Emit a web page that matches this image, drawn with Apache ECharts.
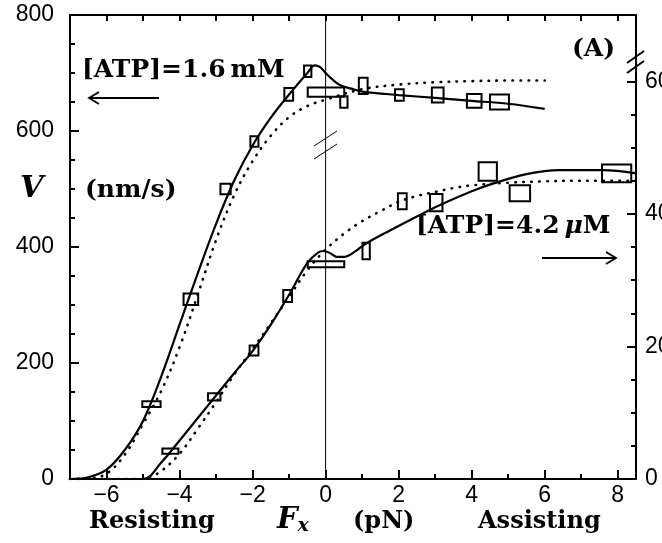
<!DOCTYPE html>
<html>
<head>
<meta charset="utf-8">
<script src="https://cdn.jsdelivr.net/npm/echarts@6/dist/echarts.min.js"></script>
<style>
html, body { margin: 0; padding: 0; background: #fff; }
#chart { width: 662px; height: 543px; }
</style>
</head>
<body>
<div id="chart"></div>
<script>
var dom = document.getElementById("chart");
var myChart = echarts.init(dom);

// [ATP] = 1.6 mM measurements (left axis, nm/s)
var hiF  = [-4.77, -3.69, -2.74, -1.95, -1.01, -0.49, 0.01, 0.50, 1.03, 2.02, 3.07, 4.07, 4.76];
var hiV  = [129, 310, 500, 582, 663, 703, 667, 650, 678, 662, 662, 652, 650];
var hiDF = [0.25, 0.20, 0.14, 0.11, 0.12, 0.10, 0.50, 0.10, 0.12, 0.12, 0.16, 0.20, 0.26];
var hiDV = [5, 10, 9, 9, 11, 10, 8, 10, 14, 10, 13, 12, 13];

// [ATP] = 4.2 uM measurements (right axis, nm/s)
var loF  = [-4.25, -3.05, -1.96, -1.04, 0.01, 1.11, 2.10, 3.03, 4.44, 5.32, 7.97];
var loV  = [4.2, 12.4, 19.4, 27.6, 32.4, 34.4, 41.9, 41.7, 46.4, 43.1, 46.1];
var loDF = [0.22, 0.17, 0.12, 0.12, 0.50, 0.10, 0.12, 0.17, 0.25, 0.28, 0.40];
var loDV = [0.4, 0.55, 0.75, 0.9, 0.45, 1.25, 1.2, 1.3, 1.4, 1.2, 1.35];

// fitted curves
var hiSolidF = [-7, -6.5, -6, -5.5, -5, -4.5, -4, -3.5, -3, -2.5, -2, -1.5, -1, -0.5, -0.3, -0.15, 0, 0.2, 0.4, 0.7, 1, 2, 3, 4, 5, 6];
var hiSolidV = [0, 3, 16, 50, 100, 177, 266, 355, 440, 515, 575, 623, 663, 700, 713, 710, 700, 688, 679, 673, 668, 662, 657, 652, 647, 638];
var hiDotF = [-7, -6.5, -6, -5.5, -5, -4.5, -4, -3.5, -3, -2.5, -2, -1.5, -1, -0.5, 0, 1, 2, 3, 4, 5, 6];
var hiDotV = [0, 1, 9, 42, 95, 152, 227, 318, 412, 490, 548, 592, 624, 643, 654, 672, 680, 684, 686, 687, 687];

var loSolidF = [-7, -5, -4.5, -4, -3.5, -3, -2.5, -2, -1.5, -1, -0.5, -0.2, -0.05, 0.15, 0.3, 0.5, 0.8, 1.1, 1.8, 2.5, 3, 4, 4.6, 5.5, 6.4, 7.6, 8.5];
var loSolidV = [0, 0, 2.5, 5.8, 9.2, 12.6, 16, 19.3, 23.3, 27.8, 32.6, 34.2, 34.4, 34.0, 33.5, 33.5, 34.3, 35.5, 37.6, 39.6, 41.0, 43.4, 44.6, 46.0, 46.6, 46.6, 46.1];
var loDotF = [-7, -5, -4.8, -4.5, -4, -3.5, -3, -2.5, -2, -1.5, -1, -0.5, 0, 0.5, 1, 1.5, 2, 2.5, 3, 3.5, 4, 5, 6, 7, 8.5];
var loDotV = [0, 0, 0.3, 1.2, 3.8, 7.6, 11.6, 15.8, 19.6, 23.5, 27.5, 31.5, 34.6, 37.0, 38.9, 40.4, 41.8, 42.7, 43.3, 43.9, 44.3, 44.7, 44.9, 45, 45];

// tick values
var xLabels = [-6, -4, -2, 0, 2, 4, 6, 8];
var xMinor = [-7, -5, -3, -1, 1, 3, 5, 7];
var xTop = [-6, -5, -4, -3, -2, -1, 0, 1, 2, 3, 4, 5, 6, 7, 8];
var rightLabels = [0, 20, 40, 60];
var rightMinor = [5, 10, 15, 25, 30, 35, 45, 50, 55];

function zip(a, b) {
    return a.map(function (v, i) { return [v, b[i]]; });
}
function boxRows(f, v, df, dv) {
    return f.map(function (x, i) { return [x, v[i], df[i], dv[i]]; });
}
function renderBox(params, api) {
    var f = api.value(0), v = api.value(1), df = api.value(2), dv = api.value(3);
    var a = api.coord([f - df, v + dv]);
    var b = api.coord([f + df, v - dv]);
    return {
        type: 'rect',
        shape: { x: a[0], y: a[1], width: b[0] - a[0], height: b[1] - a[1] },
        style: { fill: 'none', stroke: '#000', lineWidth: 2 }
    };
}

var black = '#000';
var tickFont = 'Liberation Sans';
var dotted = { color: black, width: 2.6, type: [0.5, 7.5], cap: 'round' };
var solid = { color: black, width: 2.2 };

var option = {
    animation: false,
    grid: { left: 70, right: 26, top: 15, bottom: 64, containLabel: false, outerBoundsMode: 'none' },
    xAxis: [
        {
            type: 'value', min: -7, max: 8.5, position: 'bottom',
            axisLine: { onZero: false, lineStyle: { color: black, width: 2 } },
            axisTick: { inside: true, length: 9, customValues: xLabels, lineStyle: { color: black, width: 2 } },
            axisLabel: {
                customValues: xLabels, margin: 5, color: black, fontSize: 23, fontFamily: tickFont,
                formatter: function (v) { return String(v).replace('-', '\u2212'); }
            },
            splitLine: { show: false }
        },
        {
            type: 'value', min: -7, max: 8.5, position: 'bottom',
            axisLine: { show: false, onZero: false },
            axisTick: { inside: true, length: 5, customValues: xMinor, lineStyle: { color: black, width: 2 } },
            axisLabel: { show: false },
            splitLine: { show: false }
        },
        {
            type: 'value', min: -7, max: 8.5, position: 'top',
            axisLine: { onZero: false, lineStyle: { color: black, width: 2 } },
            axisTick: { inside: true, length: 6, customValues: xTop, lineStyle: { color: black, width: 2 } },
            axisLabel: { show: false },
            splitLine: { show: false }
        }
    ],
    yAxis: [
        {
            type: 'value', min: 0, max: 800, interval: 200, position: 'left',
            axisLine: { show: true, onZero: false, lineStyle: { color: black, width: 2 } },
            axisTick: { show: true, inside: true, length: 9, lineStyle: { color: black, width: 2 } },
            minorTick: { show: true, splitNumber: 4, length: 5, lineStyle: { color: black, width: 2 } },
            axisLabel: { margin: 16, color: black, fontSize: 23, fontFamily: tickFont },
            splitLine: { show: false }
        },
        {
            type: 'value', min: 0, max: 70, position: 'right',
            axisLine: { show: true, onZero: false, lineStyle: { color: black, width: 2 } },
            axisTick: { show: true, inside: true, length: 9, customValues: rightLabels, lineStyle: { color: black, width: 2 } },
            axisLabel: { customValues: rightLabels, margin: 9, color: black, fontSize: 23, fontFamily: tickFont },
            splitLine: { show: false }
        },
        {
            type: 'value', min: 0, max: 70, position: 'right',
            axisLine: { show: false, onZero: false },
            axisTick: { show: true, inside: true, length: 5, customValues: rightMinor, lineStyle: { color: black, width: 2 } },
            axisLabel: { show: false },
            splitLine: { show: false }
        }
    ],
    series: [
        {
            type: 'line', data: [[0, 0], [0, 800]], showSymbol: false, silent: true,
            lineStyle: { color: black, width: 1 }
        },
        {
            type: 'line', data: zip(hiSolidF, hiSolidV), showSymbol: false, smooth: 0.35,
            lineStyle: solid
        },
        {
            type: 'line', data: zip(hiDotF, hiDotV), showSymbol: false, smooth: 0.35,
            lineStyle: dotted
        },
        {
            type: 'line', yAxisIndex: 1, data: zip(loSolidF, loSolidV), showSymbol: false, smooth: 0.35,
            lineStyle: solid
        },
        {
            type: 'line', yAxisIndex: 1, data: zip(loDotF, loDotV), showSymbol: false, smooth: 0.35,
            lineStyle: dotted
        },
        {
            type: 'custom', renderItem: renderBox, data: boxRows(hiF, hiV, hiDF, hiDV),
            encode: { x: 0, y: 1 }, z: 5
        },
        {
            type: 'custom', yAxisIndex: 1, renderItem: renderBox, data: boxRows(loF, loV, loDF, loDV),
            encode: { x: 0, y: 1 }, z: 5
        }
    ],
    graphic: [
        { type: 'text', left: 82, top: 58, style: { text: '[ATP]=1.6\u2009mM', font: 'bold 25px "DejaVu Serif"', fill: black } },
        { type: 'line', shape: { x1: 90, y1: 98, x2: 159, y2: 98 }, style: { stroke: black, lineWidth: 1.8 } },
        { type: 'polyline', shape: { points: [[99, 92], [89, 98], [99, 104]] }, style: { stroke: black, lineWidth: 1.8, fill: 'none' } },
        {
            type: 'text', left: 416, top: 214,
            style: {
                text: '{a|[ATP]=4.2\u2009}{b|\u03bc}{a|M}',
                rich: {
                    a: { font: 'bold 25px "DejaVu Serif"', fill: black },
                    b: { font: 'italic bold 25px "DejaVu Serif"', fill: black }
                }
            }
        },
        { type: 'line', shape: { x1: 542, y1: 258, x2: 615, y2: 258 }, style: { stroke: black, lineWidth: 1.8 } },
        { type: 'polyline', shape: { points: [[606, 252], [616, 258], [606, 264]] }, style: { stroke: black, lineWidth: 1.8, fill: 'none' } },
        { type: 'text', left: 20, top: 174, style: { text: 'V', font: 'italic bold 30px "DejaVu Serif"', fill: black } },
        { type: 'text', left: 85, top: 178, style: { text: '(nm/s)', font: 'bold 25px "DejaVu Serif"', fill: black } },
        { type: 'text', left: 572, top: 37, style: { text: '(A)', font: 'bold 25px "DejaVu Serif"', fill: black } },
        { type: 'text', left: 89, top: 510, style: { text: 'Resisting', font: 'bold 24px "DejaVu Serif"', fill: black } },
        {
            type: 'text', left: 277, top: 506,
            style: {
                text: '{f|F}{s|x}',
                rich: {
                    f: { font: 'italic bold 29px "DejaVu Serif"', fill: black },
                    s: { font: 'italic bold 19px "DejaVu Serif"', fill: black, padding: [12, 0, 0, 0] }
                }
            }
        },
        { type: 'text', left: 353, top: 510, style: { text: '(pN)', font: 'bold 24px "DejaVu Serif"', fill: black } },
        { type: 'text', left: 478, top: 510, style: { text: 'Assisting', font: 'bold 24px "DejaVu Serif"', fill: black } },
        // axis break marks
        { type: 'line', shape: { x1: 314, y1: 146, x2: 337, y2: 131 }, style: { stroke: black, lineWidth: 1 } },
        { type: 'line', shape: { x1: 314, y1: 159, x2: 337, y2: 144 }, style: { stroke: black, lineWidth: 1 } },
        { type: 'line', shape: { x1: 627, y1: 63, x2: 644, y2: 51 }, style: { stroke: black, lineWidth: 2 } },
        { type: 'line', shape: { x1: 627, y1: 73, x2: 644, y2: 61 }, style: { stroke: black, lineWidth: 2 } }
    ]
};

if (option && typeof option === 'object') {
    myChart.setOption(option);
}
</script>
</body>
</html>
